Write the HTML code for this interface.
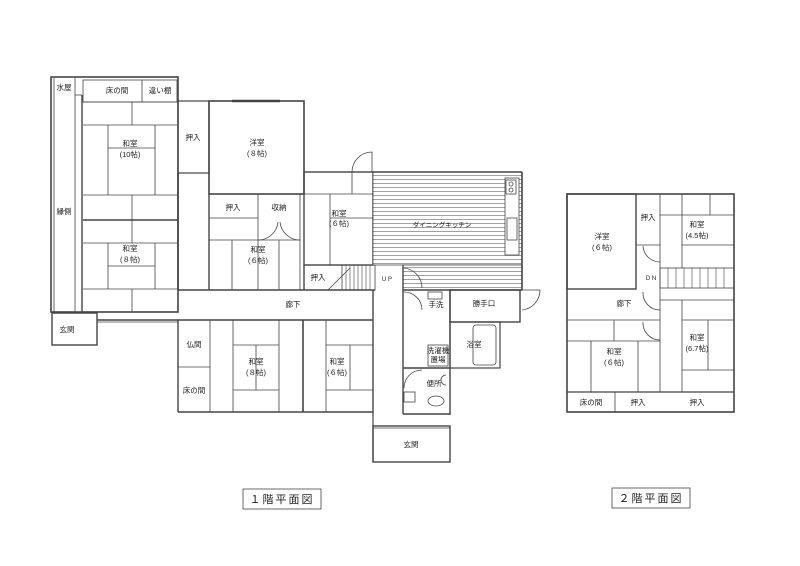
<!DOCTYPE html>
<html><head><meta charset="utf-8"><style>
html,body{margin:0;padding:0;background:#fff;}
svg{display:block;}
text{font-family:"Liberation Sans","Noto Sans CJK JP",sans-serif;font-size:7.5px;fill:#222;text-anchor:middle;}
</style></head><body>
<svg width="800" height="566" viewBox="0 0 800 566" xmlns="http://www.w3.org/2000/svg">
<defs>
<pattern id="st" width="6" height="4" patternUnits="userSpaceOnUse"><rect width="6" height="4" fill="#fff"/><line x1="0" y1="3.5" x2="6" y2="3.5" stroke="#777" stroke-width="0.7"/></pattern>
</defs>
<g fill="none" stroke="#444" stroke-width="0.8">
<rect x="51" y="77" width="127" height="235" stroke-width="1.6"/>
<line x1="54" y1="78" x2="54" y2="312"/>
<line x1="75" y1="78" x2="75" y2="312"/>
<line x1="82" y1="95" x2="82" y2="312" stroke-width="1.4"/>
<line x1="75" y1="95" x2="82" y2="95"/>
<rect x="83" y="80" width="94" height="22"/>
<line x1="142" y1="80" x2="142" y2="102"/>
<line x1="83" y1="102" x2="177" y2="102"/>
<line x1="83" y1="125" x2="177" y2="125"/>
<line x1="132" y1="102" x2="132" y2="125"/>
<line x1="108" y1="125" x2="108" y2="195"/>
<line x1="155" y1="125" x2="155" y2="195"/>
<line x1="108" y1="148" x2="155" y2="148"/>
<line x1="83" y1="195" x2="177" y2="195"/>
<line x1="132" y1="195" x2="132" y2="220"/>
<line x1="83" y1="220" x2="177" y2="220" stroke-width="1.6"/>
<line x1="83" y1="243" x2="177" y2="243"/>
<line x1="132" y1="220" x2="132" y2="243"/>
<line x1="108" y1="243" x2="108" y2="289"/>
<line x1="155" y1="243" x2="155" y2="289"/>
<line x1="108" y1="266" x2="155" y2="266"/>
<line x1="83" y1="289" x2="177" y2="289"/>
<line x1="132" y1="289" x2="132" y2="312"/>
<rect x="52" y="313" width="45" height="32" stroke-width="1.4"/>
<line x1="97" y1="320" x2="178" y2="320" stroke-width="1.4"/>
<line x1="97" y1="322" x2="178" y2="322"/>
<rect x="178" y="101" width="31" height="72" stroke-width="1.2"/>
<rect x="209" y="101" width="95" height="93" stroke-width="1.6"/>
<line x1="232" y1="101" x2="280" y2="101" stroke-width="2.4"/>
<line x1="209" y1="194" x2="209" y2="290" stroke-width="1.4"/>
<line x1="178" y1="173" x2="178" y2="290" stroke-width="1.6"/>
<line x1="209" y1="218" x2="258" y2="218"/>
<line x1="258" y1="194" x2="258" y2="240"/>
<line x1="300" y1="194" x2="300" y2="290"/>
<line x1="258" y1="240" x2="300" y2="240"/>
<path d="M258,240 A20,20 0 0 0 278,222 M300,240 A20,20 0 0 1 280,222"/>
<line x1="232" y1="240" x2="232" y2="290"/>
<line x1="258" y1="240" x2="258" y2="290"/>
<line x1="279" y1="240" x2="279" y2="290"/>
<line x1="209" y1="240" x2="258" y2="240"/>
<line x1="178" y1="290" x2="375" y2="290" stroke-width="1.4"/>
<rect x="304" y="172" width="69" height="93" stroke-width="1.4"/>
<line x1="304" y1="194" x2="373" y2="194"/>
<line x1="330" y1="194" x2="330" y2="265"/>
<line x1="330" y1="218" x2="373" y2="218"/>
<line x1="352" y1="172" x2="352" y2="194"/>
<path d="M352,172 A20,20 0 0 1 372,152 L372,172"/>
<line x1="304" y1="265" x2="304" y2="290" stroke-width="1.4"/>
<rect x="342" y="265" width="33" height="25"/>
<g stroke-width="0.6"><line x1="346" y1="265" x2="346" y2="290"/><line x1="350" y1="265" x2="350" y2="290"/><line x1="354" y1="265" x2="354" y2="290"/><line x1="358" y1="265" x2="358" y2="290"/><line x1="362" y1="265" x2="362" y2="290"/><line x1="366" y1="265" x2="366" y2="290"/><line x1="370" y1="265" x2="370" y2="290"/></g>
<line x1="328" y1="290" x2="350" y2="268"/>
<rect x="373" y="172" width="149" height="93" fill="url(#st)"/>
<rect x="403" y="265" width="119" height="25" fill="url(#st)"/>
<line x1="373" y1="172" x2="522" y2="172" stroke-width="1.6"/>
<line x1="522" y1="172" x2="522" y2="290" stroke-width="1.6"/>
<rect x="505" y="178" width="14" height="77" fill="#fff"/>
<rect x="506" y="180" width="10" height="14" fill="#fff"/>
<rect x="507" y="218" width="10" height="22" fill="#fff"/>
<circle cx="511" cy="184" r="2"/><circle cx="511" cy="190" r="2"/>
<line x1="403" y1="265" x2="403" y2="414" stroke-width="1.4"/>
<path d="M404,268 A20,20 0 0 1 422,288"/>
<line x1="403" y1="290" x2="522" y2="290" stroke-width="1.4"/>
<line x1="450" y1="290" x2="450" y2="415" stroke-width="1.4"/>
<rect x="450" y="290" width="70" height="32" stroke-width="1.4"/>
<path d="M520,290 L540,290 A20,20 0 0 1 522,310"/>
<path d="M403,292 A18,18 0 0 1 422,310"/>
<rect x="428" y="292" width="14" height="7"/>
<rect x="450" y="322" width="50" height="46" stroke-width="1.2"/>
<rect x="473" y="325" width="23" height="40" rx="3"/>
<rect x="428" y="345" width="20" height="21"/>
<line x1="403" y1="368" x2="450" y2="368" stroke-width="1.4"/>
<path d="M404,388 A18,18 0 0 1 422,370"/>
<rect x="404" y="392" width="11" height="10"/>
<ellipse cx="436" cy="401" rx="8" ry="5"/>
<path d="M446,375 A5,5 0 0 0 446,385"/>
<line x1="403" y1="414" x2="450" y2="414" stroke-width="1.4"/>
<rect x="373" y="426" width="77" height="36" stroke-width="1.4"/>
<line x1="373" y1="414" x2="373" y2="462" stroke-width="1.2"/>
<line x1="373" y1="428" x2="450" y2="428"/>
<line x1="178" y1="320" x2="373" y2="320" stroke-width="1.6"/>
<line x1="178" y1="412" x2="373" y2="412" stroke-width="1.6"/>
<line x1="178" y1="320" x2="178" y2="412" stroke-width="1.4"/>
<line x1="210" y1="320" x2="210" y2="412"/>
<line x1="178" y1="367" x2="210" y2="367"/>
<line x1="233" y1="320" x2="233" y2="412"/>
<line x1="279" y1="320" x2="279" y2="412"/>
<line x1="233" y1="345" x2="279" y2="345"/>
<line x1="233" y1="390" x2="279" y2="390"/>
<line x1="256" y1="345" x2="256" y2="390"/>
<line x1="303" y1="320" x2="303" y2="412" stroke-width="1.6"/>
<line x1="326" y1="320" x2="326" y2="412"/>
<line x1="326" y1="345" x2="373" y2="345"/>
<line x1="326" y1="390" x2="373" y2="390"/>
<line x1="350" y1="345" x2="350" y2="390"/>
<line x1="373" y1="290" x2="373" y2="414" stroke-width="1.4"/>
<rect x="567" y="194" width="167" height="218" stroke-width="1.6"/>
<rect x="567" y="194" width="69" height="95" stroke-width="1.4"/>
<line x1="636" y1="245" x2="660" y2="245"/>
<line x1="660" y1="194" x2="660" y2="392"/>
<line x1="682" y1="194" x2="682" y2="268"/>
<line x1="660" y1="215" x2="734" y2="215"/>
<line x1="682" y1="245" x2="734" y2="245"/>
<line x1="710" y1="194" x2="710" y2="215"/>
<rect x="660" y="268" width="74" height="20"/>
<g stroke-width="0.6"><line x1="668" y1="268" x2="668" y2="288"/><line x1="676" y1="268" x2="676" y2="288"/><line x1="684" y1="268" x2="684" y2="288"/><line x1="692" y1="268" x2="692" y2="288"/><line x1="700" y1="268" x2="700" y2="288"/><line x1="708" y1="268" x2="708" y2="288"/><line x1="716" y1="268" x2="716" y2="288"/><line x1="724" y1="268" x2="724" y2="288"/></g>
<path d="M643,246 A17,17 0 0 0 660,262"/>
<path d="M643,292 A17,17 0 0 0 660,310"/>
<path d="M643,322 A17,17 0 0 0 660,340"/>
<line x1="567" y1="320" x2="660" y2="320"/>
<line x1="660" y1="300" x2="734" y2="300"/>
<line x1="682" y1="300" x2="682" y2="392"/>
<line x1="682" y1="320" x2="734" y2="320"/>
<line x1="682" y1="370" x2="734" y2="370"/>
<line x1="708" y1="320" x2="708" y2="370"/>
<line x1="567" y1="341" x2="660" y2="341"/>
<line x1="591" y1="341" x2="591" y2="392"/>
<line x1="638" y1="341" x2="638" y2="392"/>
<line x1="614" y1="320" x2="614" y2="341"/>
<line x1="567" y1="392" x2="734" y2="392" stroke-width="1.2"/>
<line x1="615" y1="392" x2="615" y2="412"/>
<rect x="243" y="489" width="78" height="20"/>
<rect x="612" y="488" width="78" height="20"/>
</g>
<g>
<text x="64" y="90">水屋</text>
<text x="117" y="93">床の間</text>
<text x="160" y="93">違い棚</text>
<text x="130" y="146">和室</text>
<text x="130" y="157">(10帖)</text>
<text x="130" y="251">和室</text>
<text x="130" y="262">(８帖)</text>
<text x="64" y="214">縁側</text>
<text x="67" y="332">玄関</text>
<text x="193" y="140">押入</text>
<text x="257" y="145">洋室</text>
<text x="257" y="156">(８帖)</text>
<text x="233" y="210">押入</text>
<text x="279" y="210">収納</text>
<text x="258" y="252">和室</text>
<text x="258" y="263">(６帖)</text>
<text x="339" y="216">和室</text>
<text x="339" y="226">(６帖)</text>
<text x="318" y="280">押入</text>
<text x="387" y="281" style="font-size:6px">ＵＰ</text>
<text x="442" y="227" style="font-size:6.5px">ダイニングキッチン</text>
<text x="293" y="307">廊下</text>
<text x="436" y="307">手洗</text>
<text x="484" y="306">勝手口</text>
<text x="474" y="347">浴室</text>
<text x="438" y="353">洗濯機</text>
<text x="438" y="362">置場</text>
<text x="434" y="386">便所</text>
<text x="411" y="447">玄関</text>
<text x="194" y="347">仏間</text>
<text x="194" y="393">床の間</text>
<text x="256" y="364">和室</text>
<text x="256" y="375">(８帖)</text>
<text x="337" y="364">和室</text>
<text x="337" y="375">(６帖)</text>
<text x="602" y="239">洋室</text>
<text x="602" y="250">(６帖)</text>
<text x="648" y="220">押入</text>
<text x="697" y="227">和室</text>
<text x="697" y="238">(4.5帖)</text>
<text x="651" y="280" style="font-size:6px">ＤＮ</text>
<text x="624" y="306">廊下</text>
<text x="697" y="340">和室</text>
<text x="697" y="351">(6.7帖)</text>
<text x="614" y="354">和室</text>
<text x="614" y="365">(６帖)</text>
<text x="591" y="405">床の間</text>
<text x="638" y="405">押入</text>
<text x="697" y="405">押入</text>
<text x="282" y="503" style="font-size:11px;letter-spacing:2px">１階平面図</text>
<text x="651" y="502" style="font-size:11px;letter-spacing:2px">２階平面図</text>
</g>
</svg>
</body></html>
